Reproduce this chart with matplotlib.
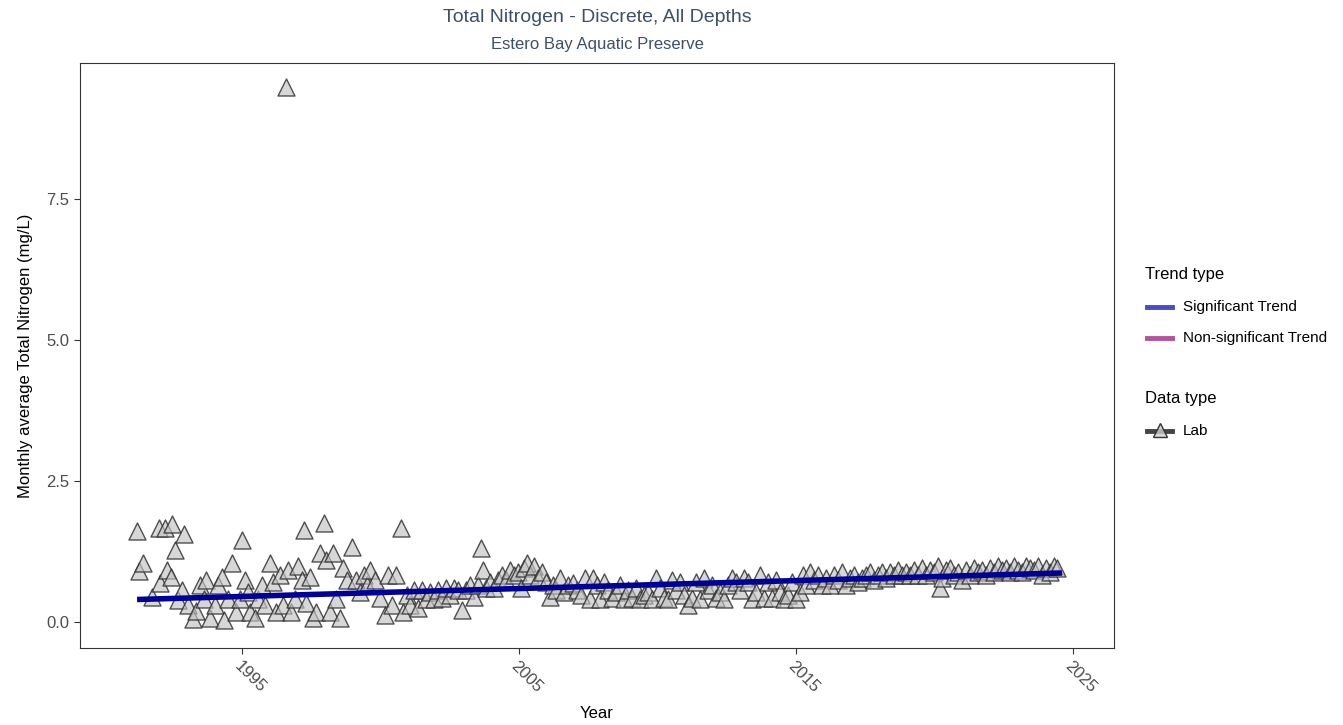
import matplotlib
matplotlib.use("Agg")
import matplotlib.pyplot as plt
from matplotlib.lines import Line2D

plt.rcParams['font.family'] = ['Liberation Sans', 'DejaVu Sans']

title = "Total Nitrogen - Discrete, All Depths"
subtitle = "Estero Bay Aquatic Preserve"
ylabel = "Monthly average Total Nitrogen (mg/L)"
xlabel = "Year"

years = [
    1991.21, 1991.28, 1991.43, 1991.75, 1992.00, 1992.22, 1992.04, 1992.29, 1992.47, 1992.58,
    1992.44, 1992.91, 1992.69, 1992.83, 1993.05, 1993.23, 1993.34, 1993.48, 1993.63, 1993.70,
    1993.84, 1994.03, 1994.13, 1994.28, 1994.35, 1994.49, 1994.64, 1994.78, 1994.93, 1995.00,
    1995.11, 1995.22, 1995.29, 1995.47, 1995.58, 1995.72, 1995.83, 1996.01, 1996.12, 1996.23,
    1996.37, 1996.48, 1996.59, 1996.66, 1996.77, 1996.91, 1997.02, 1997.17, 1997.24, 1997.31,
    1997.45, 1997.56, 1997.67, 1997.82, 1997.96, 1998.03, 1998.18, 1998.29, 1998.39, 1998.54,
    1998.65, 1998.79, 1998.97, 1999.12, 1999.26, 1999.40, 1999.51, 1999.62, 1999.80, 1999.98,
    2000.16, 2000.27, 2000.42, 2000.56, 2000.74, 2000.81, 2000.96, 2001.06, 2001.21, 2001.35,
    2001.50, 2001.64, 2001.79, 2001.93, 2002.08, 2002.22, 2002.36, 2002.51, 2002.65, 2002.80,
    2002.94, 2003.09, 2003.23, 2003.38, 2003.52, 2003.63, 2003.70, 2003.81, 2003.95, 2004.10,
    2004.24, 2004.39, 2004.53, 2004.68, 2004.82, 2004.96, 2005.07, 2005.18, 2005.29, 2005.40,
    2005.54, 2005.69, 2005.83, 2005.97, 2006.12, 2006.23, 2006.34, 2006.48, 2006.62, 2006.77,
    2006.95, 2007.09, 2007.24, 2007.38, 2007.56, 2007.67, 2007.82, 2007.92, 2008.07, 2008.21,
    2008.36, 2008.50, 2008.65, 2008.79, 2008.94, 2009.08, 2009.22, 2009.37, 2009.51, 2009.66,
    2009.80, 2009.95, 2010.09, 2010.23, 2010.38, 2010.52, 2010.67, 2010.81, 2010.96, 2011.10,
    2011.25, 2011.39, 2011.53, 2011.68, 2011.82, 2011.97, 2012.11, 2012.26, 2012.40, 2012.55,
    2012.69, 2012.83, 2012.98, 2013.12, 2013.27, 2013.41, 2013.56, 2013.70, 2013.84, 2013.99,
    2014.13, 2014.28, 2014.42, 2014.57, 2014.71, 2014.86, 2015.00, 2015.14, 2015.25, 2015.36,
    2015.51, 2015.65, 2015.79, 2015.94, 2016.08, 2016.23, 2016.37, 2016.52, 2016.66, 2016.81,
    2016.95, 2017.09, 2017.24, 2017.38, 2017.53, 2017.67, 2017.82, 2017.96, 2018.10, 2018.25,
    2018.39, 2018.54, 2018.68, 2018.83, 2018.97, 2019.12, 2019.26, 2019.40, 2019.55, 2019.69,
    2019.84, 2019.98, 2020.13, 2020.20, 2020.27, 2020.42, 2020.56, 2020.70, 2020.85, 2020.99,
    2021.14, 2021.28, 2021.43, 2021.57, 2021.71, 2021.86, 2022.00, 2022.15, 2022.29, 2022.44,
    2022.58, 2022.73, 2022.87, 2023.01, 2023.16, 2023.30, 2023.45, 2023.59, 2023.74, 2023.88,
    2024.03, 2024.17, 2024.31, 2024.42,
]

tn_values = [
    1.61, 0.90, 1.05, 0.44, 1.67, 1.67, 0.70, 0.92, 1.73, 1.28,
    0.80, 1.56, 0.39, 0.57, 0.30, 0.05, 0.20, 0.65, 0.40, 0.74,
    0.07, 0.30, 0.66, 0.80, 0.04, 0.40, 1.05, 0.18, 0.40, 1.45,
    0.75, 0.53, 0.17, 0.07, 0.40, 0.66, 0.30, 1.05, 0.71, 0.17,
    0.83, 0.30, 9.48, 0.92, 0.18, 0.40, 1.00, 0.75, 1.63, 0.33,
    0.80, 0.07, 0.18, 1.22, 1.75, 1.10, 0.18, 1.22, 0.40, 0.07,
    0.96, 0.75, 1.33, 0.75, 0.53, 0.83, 0.66, 0.92, 0.75, 0.42,
    0.12, 0.83, 0.30, 0.83, 1.67, 0.18, 0.48, 0.30, 0.57, 0.25,
    0.57, 0.40, 0.53, 0.40, 0.57, 0.43, 0.60, 0.48, 0.60, 0.57,
    0.21, 0.57, 0.66, 0.44, 0.66, 1.31, 0.92, 0.60, 0.71, 0.60,
    0.75, 0.83, 0.75, 0.92, 0.83, 0.88, 0.60, 0.96, 1.05, 0.83,
    1.00, 0.78, 0.88, 0.71, 0.44, 0.66, 0.57, 0.78, 0.53, 0.66,
    0.69, 0.57, 0.48, 0.78, 0.40, 0.78, 0.66, 0.40, 0.71, 0.57,
    0.42, 0.53, 0.66, 0.40, 0.57, 0.42, 0.60, 0.40, 0.48, 0.53,
    0.40, 0.78, 0.60, 0.42, 0.40, 0.75, 0.57, 0.71, 0.48, 0.30,
    0.42, 0.71, 0.40, 0.78, 0.57, 0.66, 0.42, 0.53, 0.40, 0.66,
    0.78, 0.71, 0.57, 0.78, 0.71, 0.40, 0.53, 0.83, 0.42, 0.71,
    0.42, 0.75, 0.53, 0.40, 0.48, 0.71, 0.40, 0.53, 0.83, 0.66,
    0.88, 0.75, 0.83, 0.66, 0.78, 0.66, 0.83, 0.75, 0.88, 0.66,
    0.78, 0.83, 0.71, 0.78, 0.83, 0.88, 0.75, 0.83, 0.88, 0.78,
    0.88, 0.83, 0.92, 0.83, 0.88, 0.83, 0.92, 0.83, 0.96, 0.83,
    0.92, 0.88, 1.00, 0.60, 0.78, 0.92, 0.96, 0.83, 0.88, 0.75,
    0.92, 0.83, 0.96, 0.88, 0.92, 0.83, 0.96, 0.88, 1.00, 0.92,
    0.96, 0.88, 1.00, 0.92, 0.88, 1.00, 0.96, 0.92, 1.00, 0.83,
    0.96, 0.88, 1.00, 0.96,
]

trend_years = [1991.21, 2024.60]
trend_values = [0.40, 0.87]

trend_labels = ['Significant Trend', 'Non-significant Trend']
trend_colors = ['#4a4ac8', '#b5529b']
data_labels = ['Lab']

W, H = 1343, 725
fig = plt.figure(figsize=(W/100, H/100), dpi=100)
ax = fig.add_axes([80/W, 1-648/H, (1114-80)/W, (648-63)/H])

ax.scatter(years, tn_values, marker='^', s=150, facecolor=(0.76, 0.76, 0.76, 0.65),
           edgecolor=(0.2, 0.2, 0.2, 0.85), linewidths=1.0, zorder=3)
ax.plot(trend_years, trend_values, color='#000099', lw=4, solid_capstyle='butt', zorder=4)

ax.set_xlim(1989.15, 2026.48)
ax.set_ylim(-0.46, 9.91)
ax.set_xticks([1995, 2005, 2015, 2025])
ax.set_yticks([0.0, 2.5, 5.0, 7.5])
ax.set_yticklabels(['0.0', '2.5', '5.0', '7.5'])
ax.tick_params(axis='both', colors='#333333', labelcolor='#4d4d4d', labelsize=12, length=4, width=0.8)
for lab in ax.get_xticklabels():
    lab.set_rotation(-45)
    lab.set_ha('left')
    lab.set_va('top')
    lab.set_rotation_mode('anchor')
for s in ax.spines.values():
    s.set_color('#333333')
    s.set_linewidth(0.8)

ax.set_ylabel(ylabel, fontsize=12, color='black', labelpad=10)
ax.set_xlabel(xlabel, fontsize=12, color='black', labelpad=8)

fig.text(597/W, 1-17/H, title, ha='center', va='center', fontsize=14, color='#3d5068')
fig.text(597/W, 1-45/H, subtitle, ha='center', va='center', fontsize=12, color='#3d5068')

# Legend drawn manually in figure coordinates
def fx(px):
    return px / W

def fy(py):
    return 1 - py / H

fig.text(fx(1145), fy(275), 'Trend type', ha='left', va='center', fontsize=12, color='black')
for i, (lab, col) in enumerate(zip(trend_labels, trend_colors)):
    yy = 307 + i * 31
    fig.add_artist(Line2D([fx(1147), fx(1172)], [fy(yy), fy(yy)], color=col, lw=3.5,
                          transform=fig.transFigure))
    fig.text(fx(1183), fy(yy), lab, ha='left', va='center', fontsize=11, color='black')

fig.text(fx(1145), fy(398), 'Data type', ha='left', va='center', fontsize=12, color='black')
for i, lab in enumerate(data_labels):
    yy = 431 + i * 31
    fig.add_artist(Line2D([fx(1147), fx(1172)], [fy(yy), fy(yy)], color='#444444', lw=3.5,
                          transform=fig.transFigure))
    fig.add_artist(Line2D([fx(1159.5)], [fy(yy - 1)], marker='^', markersize=10.5, lw=0,
                          markerfacecolor=(0.8, 0.8, 0.8, 0.8), markeredgecolor='#333333',
                          markeredgewidth=1.0, transform=fig.transFigure))
    fig.text(fx(1183), fy(yy), lab, ha='left', va='center', fontsize=11, color='black')

fig.savefig('out.png', dpi=100)
